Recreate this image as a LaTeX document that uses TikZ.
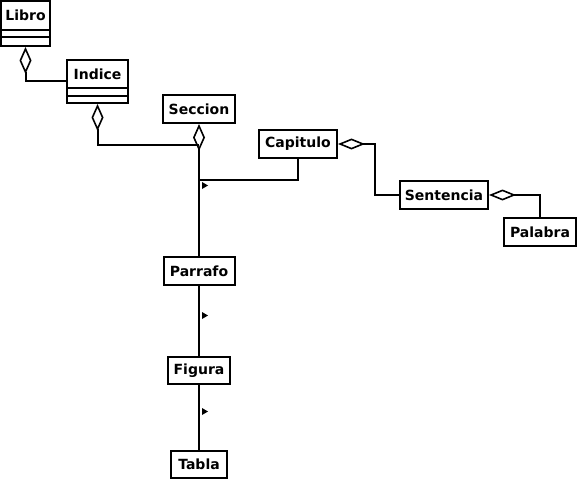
\documentclass[tikz,border=0pt]{standalone}
\usepackage{fontspec}
\setmainfont{DejaVu Sans}
\usetikzlibrary{arrows.meta}
\begin{document}
\begin{tikzpicture}[x=1pt,y=-1pt,
  cls/.style={draw, line width=2pt, rectangle, inner sep=0pt, fill=white,
    font=\fontsize{14}{16}\selectfont\bfseries},
  clsname/.style={font=\fontsize{14}{16}\selectfont\bfseries, inner sep=0pt},
  link/.style={line width=2pt},
  agg/.style={line width=2pt, {Diamond[open,length=27pt,width=12pt,line width=1.6pt]}-},
  aggh/.style={line width=2pt, {Diamond[open,length=27pt,width=11pt,line width=1.6pt]}-},
  navmark/.style={fill=black}
]
\useasboundingbox (0,0) rectangle (577,481);

% classes with attribute/operation compartments
\node[cls, minimum width=49pt, minimum height=45pt] (libro) at (25.5,23.5) {};
\node[clsname] (libroname) at (25.5,15.5) {Libro};
\draw[link] (libro.west |- 0,30) -- (libro.east |- 0,30);
\draw[link] (libro.west |- 0,37) -- (libro.east |- 0,37);

\node[cls, minimum width=61pt, minimum height=43pt] (indice) at (97.5,81.5) {};
\node[clsname] (indicename) at (97.5,74) {Indice};
\draw[link] (indice.west |- 0,88) -- (indice.east |- 0,88);
\draw[link] (indice.west |- 0,96) -- (indice.east |- 0,96);

% plain classes
\node[cls, minimum width=72pt, minimum height=28pt] (seccion) at (199,109) {Seccion};
\node[cls, minimum width=78pt, minimum height=28pt] (capitulo) at (298,144) {Capitulo};
\node[cls, minimum width=88pt, minimum height=28pt] (sentencia) at (444,195) {Sentencia};
\node[cls, minimum width=72pt, minimum height=28pt] (palabra) at (540,232) {Palabra};
\node[cls, minimum width=71pt, minimum height=28pt] (parrafo) at (199,271) {Parrafo};
\node[cls, minimum width=62pt, minimum height=27pt] (figura) at (199,370.5) {Figura};
\node[cls, minimum width=56pt, minimum height=27pt] (tabla) at (199,464.5) {Tabla};

\coordinate (joinA) at (199,145);
\coordinate (joinB) at (199,180);

% aggregations
\draw[agg] (libro.south) |- (indice.west);
\draw[agg] (indice.south) |- (joinA);
\draw[agg] (seccion.south) -- (parrafo.north);
\draw[link] (capitulo.south) |- (joinB);
\draw[aggh] (capitulo.east) -| (375,195) -- (sentencia.west);
\draw[aggh] (sentencia.east) -| (palabra.north);

% chain below Parrafo
\draw[link] (parrafo.south) -- (figura.north);
\draw[link] (figura.south) -- (tabla.north);

% navigability marks
\fill[navmark] (202,182) -- (208,185.5) -- (202,189) -- cycle;
\fill[navmark] (202,312) -- (208,315.5) -- (202,319) -- cycle;
\fill[navmark] (202,408) -- (208,411.5) -- (202,415) -- cycle;
\end{tikzpicture}
\end{document}
